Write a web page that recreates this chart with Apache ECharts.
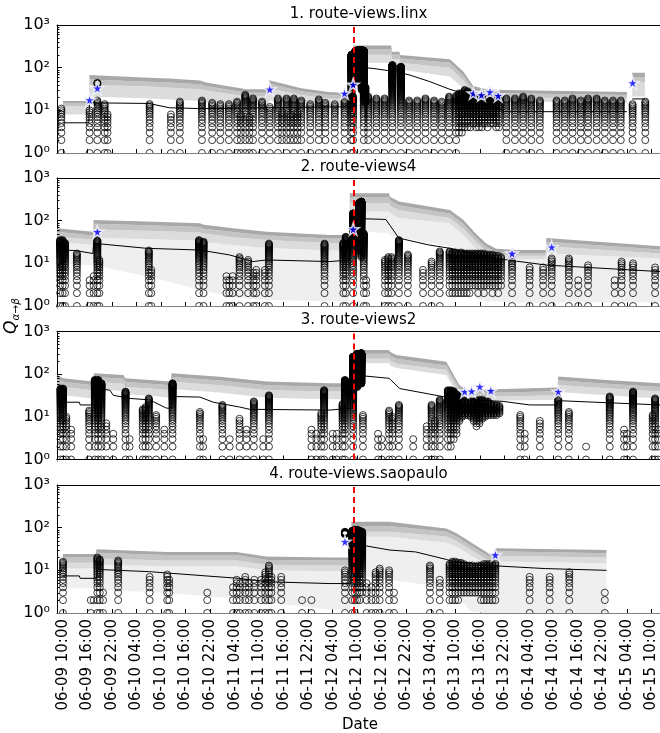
<!DOCTYPE html>
<html><head><meta charset="utf-8">
<script src="https://cdn.jsdelivr.net/npm/echarts@6/dist/echarts.min.js"></script>
<style>html,body{margin:0;padding:0;background:#fff}#c{width:660px;height:733px}</style>
</head><body><div id="c"></div>
<script>
// ---------- shared axis data ----------
const TICK_HOURS = [0,6,12,18,24,30,36,42,48,54,60,66,72,78,84,90,96,102,108,114,120,126,132,138,144];
const TICK_LABELS = ['06-09 10:00','06-09 16:00','06-09 22:00','06-10 04:00','06-10 10:00','06-10 16:00','06-10 22:00',
  '06-11 04:00','06-11 10:00','06-11 16:00','06-11 22:00','06-12 04:00','06-12 10:00','06-12 16:00','06-12 22:00',
  '06-13 04:00','06-13 10:00','06-13 16:00','06-13 22:00','06-14 04:00','06-14 10:00','06-14 16:00','06-14 22:00',
  '06-15 04:00','06-15 10:00'];
const Y_TICKS = [1,10,100,1000];
const Y_TICK_LABELS = ['10\u2070','10\u00b9','10\u00b2','10\u00b3'];
const Y_MINOR = [2,3,4,5,6,7,8,9,20,30,40,50,60,70,80,90,200,300,400,500,600,700,800,900];
const EVENT_HOUR = 71.2;
const PANEL_TITLES = ['1. route-views.linx','2. route-views4','3. route-views2','4. route-views.saopaulo'];

// ---------- panel 1 ----------
const p1BandH = [0,6.3,6.5,21,26,33.5,35,44.9,50.3,50.5,58.3,65,70.9,71.1,73.5,80.3,80.5,82.3,82.5,94.7,98,100.4,103.6,108,138,null,139.3,142.4];
const p1Top  = [16.5,16.5,67,58,56,50,45,31,31,51,33,27,25,330,330,330,237,237,198,157,80,37,31,30,27,null,76,76];
const p1Dark = [14.5,14.5,53,47,45,41,37,26,26,42,28,23,21,270,270,270,200,200,165,130,65,31,26,25,23,null,60,60];
const p1Mid  = [12.5,12.5,40,36,34,31,29,21,21,32,23,19,17.5,200,200,200,160,160,130,100,50,25,21,20,19,null,45,45];
const p1Bot  = [8,8,21,19,18,16.5,15.5,13,13,17,14,12.5,12,130,130,130,110,110,90,62,33,18,16,16,15,null,21,21];
const p1MedH = [0,6.3,6.5,21,26,33.5,65,70.9,71.1,75.9,81.6,84.9,89.8,94.7,98,101,106,108,138,null,139.3,142.4];
const p1Med  = [5.1,5.1,15,14.5,11.5,11,12,12,105,96,80,67,47,31,25,17.5,12,9.3,9.3,null,18.5,18.5];
const p1Cols = [
 [-0.4,1,11],[6.5,1,10],[8.4,1,17],[8.4,42,44],[10.2,1,14],[10.9,1,8],
 [21.2,1,14],[26.4,1,8],[28.6,1,16],
 [34.0,1,17],[36.5,1,15],[38.5,1,14],[40.6,1,14],[42.6,1,16],[43.5,1,8],[44.6,1,23],[45.6,1,7],[46.5,1,19],[48.7,1,16],[50.6,1,12],
 [52.6,1,19],[53.6,2,9],[54.7,1,19],[55.6,2,8],[56.5,1,19],[57.4,2,9],[58.3,1,17],[60.5,1,14],[62.6,1,18],[64.2,1,15],
 [66.5,1,14],[68.9,1,17],[70.6,1,200],[71.0,1,21],[71.5,45,240],[72.3,45,260],[73.1,30,260],[73.6,1,250],[74.0,15,35],
 [74.7,1,21],[76.7,1,19],[78.7,1,19],[80.6,1,115],[82.7,1,105],[84.7,1,17],[86.7,1,17],[88.7,1,19],[90.8,1,17],[92.7,1,16],[94.5,1,21],
 [96.2,1,22],[96.9,3,25],[97.6,3,25],[98.3,4,30],[99.0,4,28],[99.7,4,25],[100.4,5,22],[101.1,4,20],[101.8,4,20],[102.5,4,20],[103.2,5,20],[103.9,4,20],[104.6,5,20],[105.3,5,20],[106.0,4,20],[106.7,4,18],
 [108.5,1,19],[110.6,1,19],[112.6,1,21],[114.6,1,19],[116.7,1,17],[120.8,1,17],[122.8,1,17],[124.7,1,19],[126.7,1,17],[128.5,1,19],[130.6,1,19],[132.6,1,17],[134.6,1,17],[136.5,1,17],[139.4,1,14],[142.5,1,16]
];
const p1Stars = [[6.5,17.5],[8.4,33],[50.6,31],[68.9,25],[71.0,40],[100.4,25],[102.4,23],[104.5,27],[106.5,22],[139.4,44]];

// ---------- panel 2 ----------
const p2BandH = [-1.5,7.3,7.5,20.4,33.5,34.5,41.6,49.8,65.3,70.0,70.2,79.8,80.0,82.2,94.7,98,101,103.5,106,111,118.1,118.3,146.1];
const p2Top  = [66,55,104,95,87,80,66,55,46,46,437,437,365,280,178,104,50,29.5,22,20.6,20.6,39,25];
const p2Dark = [55,45,85,78,71,65,54,45,38,38,350,350,300,230,145,84,40,24,18.5,17.5,17.5,32,21];
const p2Mid  = [42,36,62,58,53,50,41,35,30,30,260,260,225,175,115,65,32,19.5,16,15,15,25,17];
const p2Bot  = [32,27,40,37,34,31,27,23,20,20,165,165,150,115,87,45,22,15,13,12.5,12.5,17,13];
const p2Low  = [10,9,9,5,2.4,2.3,1.6,1.4,1.3,1.3,60,50,45,40,25,15,1.5,1.3,1.3,1.2,1.2,1.2,1.2];
const p2MedH = [-1.5,3,3.2,7.3,7.5,20.4,33.5,40.8,46.5,49.8,65.3,70.0,70.2,79,82.2,89.5,94.7,106,118.3,146.1];
const p2Med  = [20.5,20,19,17,29.5,22.5,20.5,15.7,11,12,11,12,113,107,39,27,22.5,13,9.1,6.4];
const p2Cols = [
 [-0.7,1,35],[-0.1,1,35],[0.5,1,30],[3.4,1,17],[6.5,1,4],[7.5,1,5],[8.4,1,35],[8.9,1,12],
 [21.0,1,20],[21.6,1,7],[33.3,1,35],[34.4,1,32],[40.0,1,5],[40.7,1,4],[41.5,1,5],[43.2,1,14],[45.3,1,12],[46.6,1,6],[47.3,1,7],[49.4,1,7],[50.4,1,29],[64.0,1,29],
 [68.6,1,30],[69.2,1,42],[71.0,1,148],[72.5,20,260],[73.0,14,280],[73.6,1,50],[74.2,1,4],
 [78.8,1,12],[79.6,1,14],[80.4,1,14],[82.2,1,35],[84.4,1,16],[88.1,1,7],[90.2,1,11],[92.2,1,19],
 [94.6,2,19],[95.3,2,18],[96.0,2,18],[96.7,2,17],[97.4,2,18],[98.1,2,17],[98.8,2,17],[99.5,2,17],[100.2,3,17],[100.9,3,17],[101.6,2,17],[102.3,3,17],[103.0,2,17],[103.7,3,16],[104.4,3,16],[105.1,2,16],[105.8,3,15],[106.5,2,15],[107.2,3,14],
 [109.9,1,13],[114.2,1,8],[117.5,1,8],[119.6,1,13],[123.8,1,13],[126.1,1,4],[128.5,1,9],[135.0,1,4],[136.7,1,11],[139.5,1,10],[144.9,1,8]
];
const p2Stars = [[8.4,55],[71.0,63],[109.9,17],[119.6,24]];

// ---------- panel 3 ----------
const p3BandH = [-1.5,0,7.3,7.6,14.8,15.2,21.2,26.3,26.6,38.4,49.8,65.3,70.8,71.0,79.8,80.0,81.6,93.8,97,98.6,107.7,121.0,121.2,133,146.1];
const p3Top  = [95,80,67,105,95,80,73,67,105,87,67,61,61,370,370,335,280,195,56,43,45,49,88,73,61];
const p3Dark = [78,66,55,86,78,66,60,55,86,71,55,50,50,300,300,275,230,160,46,36,37,40,72,60,50];
const p3Mid  = [60,50,42,66,60,50,46,42,66,55,42,39,39,230,230,210,175,125,37,30,30,32,56,47,39];
const p3Bot  = [38,32,27,46,40,34,31,28,45,37,28,26,26,180,180,160,140,95,28,24,24,25,38,32,27];
const p3MedH = [-1.5,4,4.2,8.2,8.4,11.5,12.3,16.3,21.2,25.3,26.6,26.8,33.5,36.8,43.2,45.7,65.3,70.9,71.0,79.8,82.4,89.8,96.3,107.7,114.2,120.8,121.0,146.1];
const p3Med  = [22,22,19,19,46,42,32,27,25,16,16,30,29,22,17,15,14.4,16,96,80,46,34,26,23,19,19,24,19];
const p3Cols = [
 [-0.6,1,46],[0.0,1,46],[0.8,1,10],[2.0,1,5],[6.4,1,14],[7.8,1,73],[8.6,1,73],[9.4,1,61],[10.6,1,7],[12.3,1,4],
 [15.3,1,39],[16.3,1,3],[19.5,1,15],[20.2,1,17],[21.0,1,27],[22.8,1,11],[24.8,1,5],[26.8,1,61],[33.5,1,13],[34.3,1,3],
 [39.0,1,19],[40.8,1,3],[43.2,1,9],[44.9,1,5],[46.7,1,23],[49.0,1,3],[50.4,1,32],[60.8,1,5],[62.0,1,4],[63.2,1,12],[63.9,1,42],
 [66.0,1,4],[67.0,1,4],[68.4,1,20],[69.0,1,73],[71.0,1,257],[72.0,50,300],[73.0,60,310],[73.4,1,11],[77.1,1,4],[78.0,1,3],
 [79.8,1,14],[80.6,1,10],[82.2,1,19],[85.7,1,3],[89.0,1,6],[90.2,1,19],[91.0,1,8],[92.2,1,25],
 [94.2,2,42],[94.9,2,42],[95.6,3,40],[96.3,4,35],[97.0,8,30],[97.7,10,25],[98.4,11,24],[99.1,11,23],[99.8,10,23],[100.5,8,23],[101.2,6,24],[101.9,7,25],[102.6,9,25],[103.3,10,24],[104.0,11,23],[104.7,11,20],[105.4,11,19],[106.1,11,19],[106.8,12,18],
 [111.9,1,11],[113.0,1,4],[116.7,1,8],[121.2,1,27],[123.8,1,13],[128.0,1,2],[133.8,1,30],[137.3,1,5],[138.0,1,4],[139.5,1,39],[144.3,1,11],[144.9,1,27],[145.6,1,5]
];
const p3Stars = [[98.3,39],[100.0,40],[102.0,51],[104.7,41],[121.2,39]];

// ---------- panel 4 ----------
const p4BandH = [0,8.0,8.2,25.3,42.4,49.8,65.3,70.4,70.6,79.8,93.8,96.3,99.6,102.8,104.1,105.5,105.7,133];
const p4Top  = [24,24,31,27,27,21,20,20,138,138,96,74,47,30,25,25,33,30];
const p4Dark = [20,20,26,23,23,17.5,17,17,110,110,80,62,39,25,21,21,28,25];
const p4Mid  = [15,15,19,17,17,13.5,13,13,80,80,62,49,31,20,17,17,22,20];
const p4Bot  = [11,11,13.5,12.5,12.5,10,9.5,9.5,61,61,45,36,23,15,13,13,16,14.6];
const p4Low  = [3.8,3.8,3.5,3.0,2.2,1.8,1.2,1.2,8,6,4,3,1.1,1,1,1,1,1];
const p4MedH = [0,4,4.2,8.2,8.4,21.2,35,43,49.8,65.3,70.4,70.6,79.8,86.3,93.8,95.5,106,118,133];
const p4Med  = [7.4,7.4,6.5,6.5,10.5,9.3,7.4,6.5,5.4,4.9,4.9,43,30,27,18,16,12.7,11,10];
const p4Cols = [
 [0.0,1,16],[6.8,1,2],[7.5,2,2],[8.4,1,20],[9.0,1,18],[9.8,1,3],[13.5,1,17],[21.2,1,7],[25.5,1,8],[26.0,1,6],[35.3,1,3],
 [41.6,1,4],[42.5,1,6],[43.3,1,5],[44.6,1,7],[45.5,1,5],[46.8,1,6],[48.5,1,6],[49.5,1,9],[50.4,1,13],[51.0,1,7],[53.4,1,7],[58.5,1,2],[60.8,1,2],
 [69.0,1,10],[69.0,70,80],[70.8,1,85],[71.4,1,89],[72.0,2,89],[72.6,2,85],[73.2,3,80],[74.3,1,5],[75.5,1,4],[76.5,1,9],[77.5,1,11],[79.8,1,10],[81.0,1,3],
 [89.8,1,13],[92.2,1,6],
 [94.6,2,14],[95.3,2,16],[96.0,2,16],[96.7,2,15],[97.4,3,15],[98.1,3,14],[98.8,3,13],[99.5,3,13],[100.2,3,13],[100.9,3,12],[101.6,3,13],[102.3,2,13],[103.0,2,14],[103.7,2,14],[104.4,2,14],[105.1,2,14],[105.8,2,15],
 [114.2,1,7],[119.1,1,7],[123.9,1,9],[132.6,1,3]
];
const p4Stars = [[69.0,47],[105.8,23]];

// ---------- layout / style ----------
const FONT = 'DejaVu Sans';
const X_MIN = -1.47, X_MAX = 146.1;
const GRID_LEFT = 57, GRID_TOPS = [25,178,331.5,485], GRID_H = 128;
const BAND_COLORS = {low:'#efefef', light:'#dcdcdc', mid:'#c4c4c4', dark:'#a8a8a8'};
const STAR = 'path://M50,0 L61.8,36.2 L100,36.2 L69.1,58.8 L80.9,95 L50,72.6 L19.1,95 L30.9,58.8 L0,36.2 L38.2,36.2 Z';

const panels = [
 {bandH:p1BandH, top:p1Top, dark:p1Dark, mid:p1Mid, bot:p1Bot, low:null, medH:p1MedH, med:p1Med, cols:p1Cols, stars:p1Stars},
 {bandH:p2BandH, top:p2Top, dark:p2Dark, mid:p2Mid, bot:p2Bot, low:p2Low, medH:p2MedH, med:p2Med, cols:p2Cols, stars:p2Stars},
 {bandH:p3BandH, top:p3Top, dark:p3Dark, mid:p3Mid, bot:p3Bot, low:null, medH:p3MedH, med:p3Med, cols:p3Cols, stars:p3Stars},
 {bandH:p4BandH, top:p4Top, dark:p4Dark, mid:p4Mid, bot:p4Bot, low:p4Low, medH:p4MedH, med:p4Med, cols:p4Cols, stars:p4Stars}
];

function segmentsOf(arr){
  const segs=[]; let cur=[];
  arr.forEach((v,k)=>{ if(v===null){ if(cur.length) segs.push(cur); cur=[]; } else cur.push(k); });
  if(cur.length) segs.push(cur);
  return segs;
}

const grid=[], xAxis=[], yAxis=[], series=[], graphic=[];
panels.forEach((p,i)=>{
  grid.push({left:GRID_LEFT, right:0, top:GRID_TOPS[i], height:GRID_H});
  xAxis.push({type:'value', gridIndex:i, position:'bottom', min:X_MIN, max:X_MAX,
    axisLine:{show:true, onZero:false, lineStyle:{color:'#000', width:1}},
    axisTick:{show:true, inside:true, length:4, customValues:TICK_HOURS, lineStyle:{color:'#000', width:1}},
    axisLabel:{show:i===3, customValues:TICK_HOURS, rotate:90, margin:6, color:'#000', fontSize:15, fontFamily:FONT,
      formatter:(v)=>{ let best=0; TICK_HOURS.forEach((t,k)=>{ if(Math.abs(t-v)<Math.abs(TICK_HOURS[best]-v)) best=k; }); return TICK_LABELS[best]; }},
    splitLine:{show:false}});
  xAxis.push({type:'value', gridIndex:i, position:'top', min:X_MIN, max:X_MAX,
    axisLine:{show:true, onZero:false, lineStyle:{color:'#000', width:1}},
    axisTick:{show:false}, axisLabel:{show:false}, splitLine:{show:false}});
  yAxis.push({type:'log', logBase:10, gridIndex:i, min:1, max:1000, splitNumber:3, position:'left',
    axisLine:{show:true, onZero:false, lineStyle:{color:'#000', width:1}},
    axisTick:{show:true, inside:true, length:5, lineStyle:{color:'#000'}},
    axisLabel:{color:'#000', fontSize:16, fontFamily:FONT, margin:7,
      formatter:(v)=>{ const k=Y_TICKS.indexOf(Math.round(v)); return k>=0?Y_TICK_LABELS[k]:''; }},
    splitLine:{show:false}});

  const xi = 2*i, yi = i;
  const segs = segmentsOf(p.bandH);
  const layers = [];
  if(p.low) layers.push([p.low, p.bot, BAND_COLORS.low]);
  layers.push([p.bot, p.mid, BAND_COLORS.light]);
  layers.push([p.mid, p.dark, BAND_COLORS.mid]);
  layers.push([p.dark, p.top, BAND_COLORS.dark]);
  series.push({type:'custom', xAxisIndex:xi, yAxisIndex:yi, z:1, silent:true, data:[[0,10]],
    renderItem:(params, api)=>{
      const children=[];
      segs.forEach(seg=>{
        layers.forEach(([lo,hi,color])=>{
          const pts=[];
          seg.forEach(k=>pts.push(api.coord([p.bandH[k], hi[k]])));
          for(let m=seg.length-1;m>=0;m--) pts.push(api.coord([p.bandH[seg[m]], lo[seg[m]]]));
          children.push({type:'polygon', shape:{points:pts}, style:{fill:color, stroke:null}});
        });
      });
      return {type:'group', children};
    }});
  segmentsOf(p.medH).forEach(seg=>{
    series.push({type:'line', xAxisIndex:xi, yAxisIndex:yi, z:2, silent:true, symbol:'none',
      lineStyle:{color:'#000', width:1}, data:seg.map(k=>[p.medH[k], p.med[k]])});
  });
  const pts=[];
  p.cols.forEach(([h,lo,hi])=>{ for(let v=lo; v<=hi; v++) pts.push([h,v]); });
  series.push({type:'scatter', xAxisIndex:xi, yAxisIndex:yi, z:3, silent:true, symbol:'circle', symbolSize:7,
    progressive:0, large:false, itemStyle:{color:'rgba(0,0,0,0)', borderColor:'#000', borderWidth:0.95}, data:pts});
  series.push({type:'line', xAxisIndex:xi, yAxisIndex:yi, z:4, silent:true, data:[],
    markLine:{silent:true, symbol:['none','none'], label:{show:false}, animation:false,
      lineStyle:{color:'#ff0000', type:[6,4], width:2}, data:[{xAxis:EVENT_HOUR}]}});
  series.push({type:'scatter', xAxisIndex:xi, yAxisIndex:yi, z:5, silent:true, symbol:STAR, symbolSize:12,
    itemStyle:{color:'#0000ff', borderColor:'#ffffff', borderWidth:1.5}, data:p.stars});
  // minor log ticks on the left axis, positioned through the log scale
  series.push({type:'custom', xAxisIndex:xi, yAxisIndex:yi, z:6, silent:true, clip:false,
    data:Y_MINOR.map(v=>[X_MIN, v]),
    renderItem:(params, api)=>{
      const pt = api.coord([X_MIN, api.value(1)]);
      const y = Math.round(pt[1]) + 0.5;
      return {type:'line', shape:{x1:pt[0], y1:y, x2:pt[0]+2.5, y2:y}, style:{stroke:'#000', lineWidth:1}};
    }});

  const B = GRID_TOPS[i]+GRID_H;
  graphic.push({type:'rect', z:100, silent:true, shape:{x:GRID_LEFT+0.5, y:B+0.6, width:660-GRID_LEFT, height:4.5}, style:{fill:'#fff'}});
  graphic.push({type:'text', z:100, silent:true, x:(GRID_LEFT+660)/2, y:GRID_TOPS[i]-11,
    style:{text:PANEL_TITLES[i], font:'15px "DejaVu Sans"', fill:'#000', textAlign:'center', textVerticalAlign:'middle'}});
});
graphic.push({type:'text', z:100, silent:true, x:360, y:725,
  style:{text:'Date', font:'15px "DejaVu Sans"', fill:'#000', textAlign:'center', textVerticalAlign:'middle'}});
graphic.push({type:'text', z:100, silent:true, x:12, y:316, rotation:Math.PI/2,
  style:{text:'{q|Q}{s|\u03b1\u2192\u03b2}', textAlign:'center', textVerticalAlign:'middle', fill:'#000',
    rich:{q:{fontSize:17, fontFamily:FONT, fontStyle:'italic', lineHeight:20, fill:'#000'},
          s:{fontSize:10.5, fontFamily:FONT, fontStyle:'italic', lineHeight:10, verticalAlign:'bottom', fill:'#000'}}}});

const chart = echarts.init(document.getElementById('c'), null, {renderer:'canvas', width:660, height:733});
chart.setOption({animation:false, backgroundColor:'#fff', grid, xAxis, yAxis, series, graphic});
</script></body></html>
